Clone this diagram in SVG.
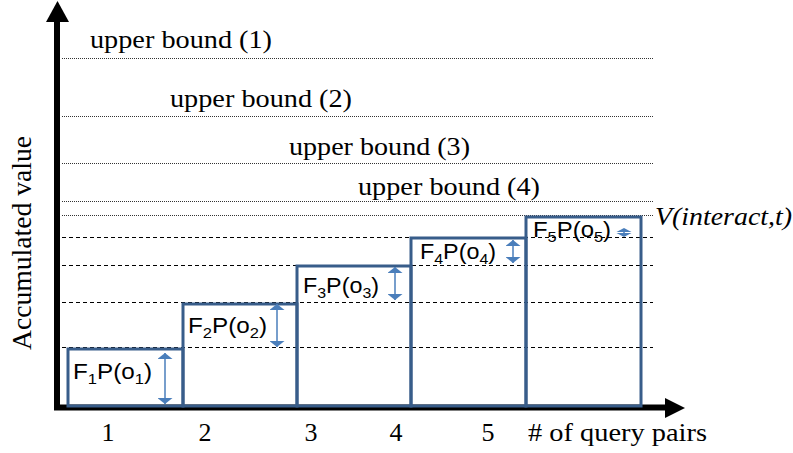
<svg xmlns="http://www.w3.org/2000/svg" width="793" height="453" viewBox="0 0 793 453">
  <style>
    .box { fill: none; stroke: #385D8A; stroke-width: 3; }
    .dot { stroke: #333; stroke-width: 1; stroke-dasharray: 1 1; fill: none; }
    .dash { stroke: #000; stroke-width: 1; stroke-dasharray: 4 3; fill: none; }
    .darr { stroke: #4A7EBB; stroke-width: 1.5; fill: none; marker-start: url(#ah); marker-end: url(#ah); }
    .axis { stroke: #000; stroke-width: 6; fill: none; }
  </style>
  <defs>
    <marker id="ah" viewBox="0 0 6 15" refX="6" refY="7.5" markerWidth="6" markerHeight="15" markerUnits="userSpaceOnUse" orient="auto-start-reverse">
      <path d="M0,0 L6,7.5 L0,15 z" fill="#4A7EBB"/>
    </marker>
  </defs>
  <rect width="793" height="453" fill="#fff"/>

  <g id="bounds">
    <line class="dot" x1="62" y1="58.5" x2="653" y2="58.5"/>
    <line class="dot" x1="62" y1="116.5" x2="653" y2="116.5"/>
    <line class="dot" x1="62" y1="163.5" x2="653" y2="163.5"/>
    <line class="dot" x1="62" y1="201.5" x2="653" y2="201.5"/>
    <line class="dot" x1="62" y1="215.5" x2="653" y2="215.5"/>
    <line class="dash" x1="62" y1="237.5" x2="653" y2="237.5"/>
    <line class="dash" x1="62" y1="265.5" x2="653" y2="265.5"/>
    <line class="dash" x1="62" y1="302.5" x2="653" y2="302.5"/>
    <line class="dash" x1="62" y1="347.5" x2="653" y2="347.5"/>
    <g font-family="'Liberation Serif', 'Times New Roman', serif" font-size="26" fill="#000">
      <text x="90" y="48" textLength="182" lengthAdjust="spacingAndGlyphs">upper bound (1)</text>
      <text x="170" y="107" textLength="182" lengthAdjust="spacingAndGlyphs">upper bound (2)</text>
      <text x="289" y="155" textLength="181" lengthAdjust="spacingAndGlyphs">upper bound (3)</text>
      <text x="358" y="195" textLength="182" lengthAdjust="spacingAndGlyphs">upper bound (4)</text>
      <text x="655" y="225" font-style="italic" textLength="137" lengthAdjust="spacingAndGlyphs">V(interact,t)</text>
    </g>
  </g>

  <g id="axes">
    <line class="axis" x1="57" y1="410" x2="57" y2="20"/>
    <path d="M46,22 L57.5,1 L69,22 z" fill="#000"/>
    <line class="axis" x1="54" y1="407.5" x2="667" y2="407.5"/>
    <path d="M665,398 L685,408 L665,418 z" fill="#000"/>
    <g font-family="'Liberation Serif', 'Times New Roman', serif" font-size="26" fill="#000">
      <text transform="translate(31,243) rotate(-90)" text-anchor="middle" font-size="28" textLength="214" lengthAdjust="spacingAndGlyphs">Accumulated value</text>
      <text x="108" y="441" text-anchor="middle">1</text>
      <text x="205" y="441" text-anchor="middle">2</text>
      <text x="311" y="441" text-anchor="middle">3</text>
      <text x="396" y="441" text-anchor="middle">4</text>
      <text x="488" y="441" text-anchor="middle">5</text>
      <text x="528" y="441" textLength="179" lengthAdjust="spacingAndGlyphs"># of query pairs</text>
    </g>
  </g>

  <g font-family="'Liberation Sans', Arial, sans-serif" font-size="22" fill="#000">
    <g id="node1">
      <rect class="box" x="68" y="349" width="115" height="57"/>
      <text x="73" y="379" textLength="79" lengthAdjust="spacingAndGlyphs">F<tspan font-size="15" dy="5">1</tspan><tspan dy="-5">P(o</tspan><tspan font-size="15" dy="5">1</tspan><tspan dy="-5">)</tspan></text>
    </g>
    <g id="node2">
      <rect class="box" x="183" y="304" width="114" height="102"/>
      <text x="188" y="333" textLength="79" lengthAdjust="spacingAndGlyphs">F<tspan font-size="15" dy="5">2</tspan><tspan dy="-5">P(o</tspan><tspan font-size="15" dy="5">2</tspan><tspan dy="-5">)</tspan></text>
    </g>
    <g id="node3">
      <rect class="box" x="297" y="266" width="114" height="140"/>
      <text x="303" y="293" textLength="76" lengthAdjust="spacingAndGlyphs">F<tspan font-size="15" dy="5">3</tspan><tspan dy="-5">P(o</tspan><tspan font-size="15" dy="5">3</tspan><tspan dy="-5">)</tspan></text>
    </g>
    <g id="node4">
      <rect class="box" x="411" y="238" width="115" height="168"/>
      <text x="420" y="259" textLength="76" lengthAdjust="spacingAndGlyphs">F<tspan font-size="15" dy="5">4</tspan><tspan dy="-5">P(o</tspan><tspan font-size="15" dy="5">4</tspan><tspan dy="-5">)</tspan></text>
    </g>
    <g id="node5">
      <rect class="box" x="526" y="217" width="115" height="189"/>
      <text x="533" y="237" textLength="78" lengthAdjust="spacingAndGlyphs">F<tspan font-size="15" dy="5">5</tspan><tspan dy="-5">P(o</tspan><tspan font-size="15" dy="5">5</tspan><tspan dy="-5">)</tspan></text>
    </g>
  </g>

  <g id="connectors">
    <line class="darr" x1="165" y1="353" x2="165" y2="404"/>
    <line class="darr" x1="277" y1="304" x2="277" y2="347"/>
    <line class="darr" x1="395" y1="267" x2="395" y2="300"/>
    <line class="darr" x1="513" y1="240" x2="513" y2="263"/>
    <g fill="#4A7EBB">
      <path d="M616.5,232 L624,228 L631.5,232 z"/>
      <path d="M616.5,233 L624,237 L631.5,233 z"/>
      <line x1="624" y1="230" x2="624" y2="235" stroke="#4A7EBB" stroke-width="1.5"/>
    </g>
  </g>
</svg>
